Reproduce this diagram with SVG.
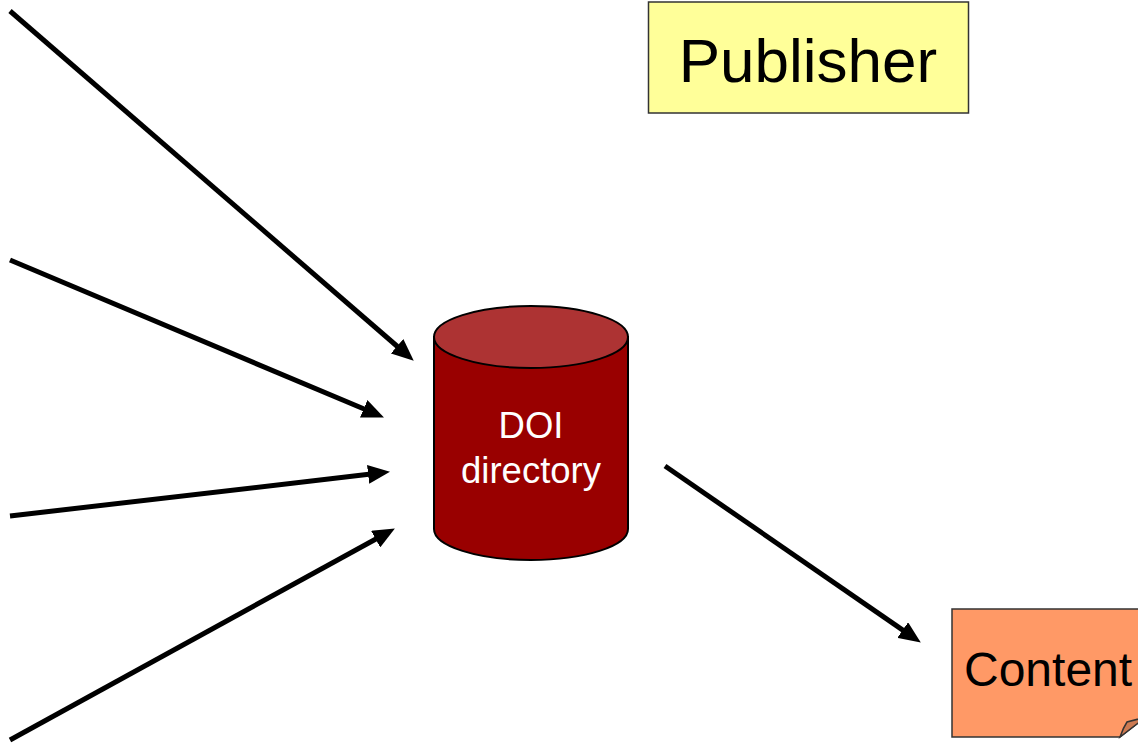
<svg xmlns="http://www.w3.org/2000/svg" width="1138" height="744" viewBox="0 0 1138 744">
<defs>
<style>
.conn{stroke:#000;stroke-width:5;fill:none;marker-end:url(#ah)}
.lbl{font-family:"Liberation Sans",Arial,sans-serif}
</style>
<marker id="ah" markerUnits="userSpaceOnUse" markerWidth="22" markerHeight="19" viewBox="0 0 22 19" refX="5" refY="9.5" orient="auto">
<path d="M0,0 L22,9.5 L0,19 Z" fill="#000"/>
</marker>
</defs>
<rect width="1138" height="744" fill="#fff"/>
<g id="publisher">
<rect x="648.5" y="2" width="320" height="111" fill="#FFFF99" stroke="#333" stroke-width="1.5"/>
<text class="lbl" x="808" y="82" font-size="62" text-anchor="middle" fill="#000">Publisher</text>
</g>
<g id="doi-directory">
<path d="M434,337 L434,529 A97,31 0 0 0 628,529 L628,337 Z" fill="#990000" stroke="#000" stroke-width="2"/>
<ellipse cx="531" cy="337" rx="97" ry="31" fill="#AD3333" stroke="#000" stroke-width="2"/>
<text class="lbl" x="531" y="438" font-size="36.5" text-anchor="middle" fill="#fff">DOI</text>
<text class="lbl" x="531" y="483" font-size="36.5" text-anchor="middle" fill="#fff">directory</text>
</g>
<g id="content">
<path d="M952,609 H1146 V717 L1120,737 H952 Z" fill="#FF9966" stroke="#333" stroke-width="1.5"/>
<path d="M1120,737 Q1123,728 1127,722 L1146,717 Z" fill="#CC7A52" stroke="#333" stroke-width="1.5"/>
<text class="lbl" x="964" y="686" font-size="48" fill="#000">Content</text>
</g>
<g id="connectors">
<line class="conn" x1="10" y1="11" x2="400.9" y2="349.5"/>
<line class="conn" x1="10" y1="260" x2="368.3" y2="410.8"/>
<line class="conn" x1="10" y1="516" x2="373.1" y2="473.8"/>
<line class="conn" x1="10" y1="740" x2="380" y2="536.7"/>
<line class="conn" x1="665" y1="466" x2="906.8" y2="632.9"/>
</g>
</svg>
